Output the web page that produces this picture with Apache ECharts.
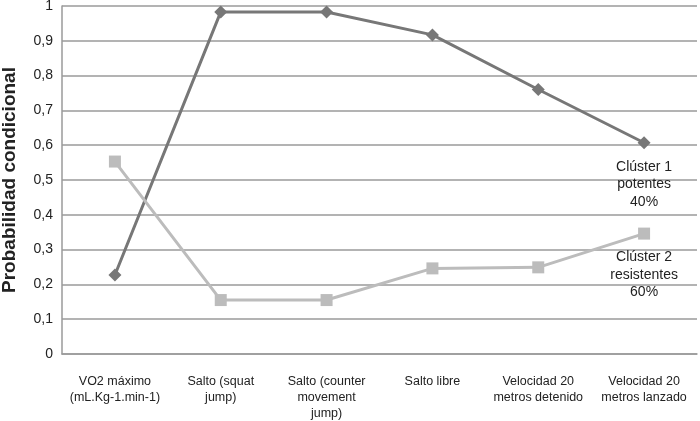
<!DOCTYPE html>
<html>
<head>
<meta charset="utf-8">
<script src="https://cdn.jsdelivr.net/npm/echarts@6/dist/echarts.min.js"></script>
<style>
  html, body { margin: 0; padding: 0; background: #fff; }
  #chart { width: 700px; height: 421px; }
</style>
</head>
<body>
<div id="chart"></div>
<script>
const categories = [
  'VO2 máximo\n(mL.Kg-1.min-1)',
  'Salto (squat\njump)',
  'Salto (counter\nmovement\njump)',
  'Salto libre',
  'Velocidad 20\nmetros detenido',
  'Velocidad 20\nmetros lanzado'
];
const cluster1 = [0.227, 0.983, 0.983, 0.917, 0.760, 0.607];
const cluster2 = [0.553, 0.155, 0.155, 0.246, 0.249, 0.346];
const cluster1Label = 'Clúster 1\npotentes\n40%';
const cluster2Label = 'Clúster 2\nresistentes\n60%';

// put the cluster name under the last point of each line
function withEndLabel(values, text) {
  return values.map((v, i) => {
    if (i !== values.length - 1) return v;
    return {
      value: v,
      label: {
        show: true,
        position: 'bottom',
        distance: 9,
        formatter: text,
        color: '#222',
        fontSize: 14,
        lineHeight: 17.5,
        fontFamily: 'Liberation Sans, Arial, sans-serif'
      }
    };
  });
}

const chart = echarts.init(document.getElementById('chart'));
chart.setOption({
  animation: false,
  textStyle: { fontFamily: 'Liberation Sans, Arial, sans-serif' },
  grid: { left: 62, right: 3, top: 6, bottom: 67, outerBoundsMode: 'none', containLabel: false },
  xAxis: {
    type: 'category',
    data: categories,
    boundaryGap: true,
    axisLine: { lineStyle: { color: '#9a9a9a', width: 1.5 } },
    axisTick: { show: false },
    axisLabel: {
      interval: 0,
      color: '#222',
      fontSize: 12.5,
      lineHeight: 16,
      margin: 20
    }
  },
  yAxis: {
    type: 'value',
    min: 0,
    max: 1,
    interval: 0.1,
    name: 'Probabilidad condicional',
    nameLocation: 'middle',
    nameGap: 43,
    nameTextStyle: { fontSize: 19, fontWeight: 'bold', color: '#222' },
    axisLine: { show: true, lineStyle: { color: '#9a9a9a', width: 1.5 } },
    axisTick: { show: false },
    axisLabel: {
      color: '#222',
      fontSize: 14,
      margin: 9,
      formatter: v => String(Math.round(v * 10) / 10).replace('.', ',')
    },
    splitLine: { lineStyle: { color: '#9a9a9a', width: 1.5 } }
  },
  series: [
    {
      name: 'Clúster 1',
      type: 'line',
      data: withEndLabel(cluster1, cluster1Label),
      symbol: 'diamond',
      symbolSize: 13,
      lineStyle: { color: '#777777', width: 3 },
      itemStyle: { color: '#777777' }
    },
    {
      name: 'Clúster 2',
      type: 'line',
      data: withEndLabel(cluster2, cluster2Label),
      symbol: 'rect',
      symbolSize: 12,
      lineStyle: { color: '#bcbcbc', width: 3 },
      itemStyle: { color: '#bcbcbc' }
    }
  ]
});
</script>
</body>
</html>
